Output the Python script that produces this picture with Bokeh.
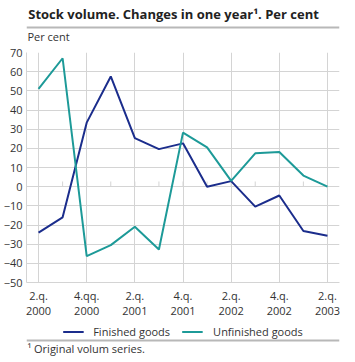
from bokeh.plotting import figure
from bokeh.models import Range1d, FixedTicker, Legend, LegendItem
from bokeh.layouts import column
from bokeh.embed import file_html
from bokeh.resources import INLINE
from bokeh.core.properties import value

# ---- data ----
quarters = ["2.q. 2000", "3.q. 2000", "4.q. 2000", "1.q. 2001", "2.q. 2001",
            "3.q. 2001", "4.q. 2001", "1.q. 2002", "2.q. 2002", "3.q. 2002",
            "4.q. 2002", "1.q. 2003", "2.q. 2003"]
finished = [-24, -16, 33.4, 57.5, 25.3, 19.6, 22.6, 0, 2.9, -10.4, -4.6, -23.1, -25.6]
unfinished = [51, 67, -36.2, -30.5, -20.9, -32.8, 28.2, 20.5, 3, 17.4, 18.1, 5.8, 0]
series_names = ["Finished goods", "Unfinished goods"]
tick_positions = [0, 2, 4, 6, 8, 10, 12]
tick_labels = ["2.q.\n2000", "4.qq.\n2000", "2.q.\n2001", "4.q.\n2001",
               "2.q.\n2002", "4.q.\n2002", "2.q.\n2003"]
y_ticks = [-50, -40, -30, -20, -10, 0, 10, 20, 30, 40, 50, 60, 70]
title_text = "Stock volume. Changes in one year\u00b9. Per cent"
unit_text = "Per cent"
footnote_text = "\u00b9 Original volum series."

quarter_index = list(range(len(quarters)))
NAN = float("nan")

FONT = "Open Sans"
BLUE = "#1b2d8c"
TEAL = "#1d9a98"
GRID = "#d4d4d4"
SEP = "#b8b8b8"
TEXT = "#333333"
W = 355

# ---- top strip: title, separator, unit ----
top = figure(width=W, height=45, x_range=Range1d(0, W), y_range=Range1d(45, 0),
             x_axis_type=None, y_axis_type=None, toolbar_location=None,
             output_backend="svg", min_border=0, outline_line_color=None, title=None)
top.grid.visible = False
top.text(x=[2], y=[13], text=[title_text], text_font=value(FONT), text_font_style="bold",
         text_font_size="13px", text_baseline="middle", text_color="#222222")
top.segment(x0=[0], y0=[27], x1=[W], y1=[27], line_color=SEP, line_width=2)
top.text(x=[1], y=[36], text=[unit_text], text_font=value(FONT),
         text_font_size="11px", text_baseline="middle", text_color=TEXT)

# ---- main chart ----
p = figure(width=W, height=275, x_range=Range1d(-0.5, len(quarters) - 0.5),
           y_range=Range1d(-50, 70), toolbar_location=None, output_backend="svg",
           title=None, min_border_left=24, min_border_right=16, min_border_top=7,
           min_border_bottom=34, outline_line_color=None)

p.segment(x0=quarter_index, y0=[0] * len(quarters), x1=quarter_index,
          y1=[2.7] * len(quarters), line_color=GRID, line_width=1)
p.line(quarter_index, finished, line_color=BLUE, line_width=2)
p.line(quarter_index, unfinished, line_color=TEAL, line_width=2)

p.xaxis.ticker = FixedTicker(ticks=tick_positions)
p.xaxis.major_label_overrides = dict(zip(tick_positions, tick_labels))
p.yaxis.ticker = FixedTicker(ticks=y_ticks)
for ax in p.axis:
    ax.axis_line_color = GRID
    ax.major_tick_line_color = None
    ax.minor_tick_line_color = None
    ax.major_tick_out = 0
    ax.major_tick_in = 0
    ax.major_label_text_font = FONT
    ax.major_label_text_font_size = "11px"
    ax.major_label_text_color = TEXT
    ax.major_label_standoff = 4
p.xaxis.major_label_text_line_height = 1.0
p.xaxis.major_label_standoff = 5
p.grid.grid_line_color = GRID
p.grid.grid_line_width = 1

# ---- bottom strip: legend, separator, footnote ----
bot = figure(width=W, height=42, x_range=Range1d(0, W), y_range=Range1d(42, 0),
             x_axis_type=None, y_axis_type=None, toolbar_location=None,
             output_backend="svg", min_border=0, outline_line_color=None, title=None)
bot.grid.visible = False
d1 = bot.line([NAN, NAN], [NAN, NAN], line_color=BLUE, line_width=2)
d2 = bot.line([NAN, NAN], [NAN, NAN], line_color=TEAL, line_width=2)
legend = Legend(items=[LegendItem(label=series_names[0], renderers=[d1]),
                       LegendItem(label=series_names[1], renderers=[d2])],
                orientation="horizontal", location="top_center", margin=4, padding=0,
                spacing=12, label_standoff=10, glyph_width=21, glyph_height=15,
                label_height=15, label_text_font=FONT, label_text_font_size="11px",
                label_text_color=TEXT, border_line_color=None, background_fill_alpha=0)
bot.add_layout(legend)
bot.segment(x0=[0], y0=[20], x1=[W], y1=[20], line_color=SEP, line_width=2)
bot.text(x=[1], y=[28], text=[footnote_text], text_font=value(FONT),
         text_font_size="11px", text_baseline="middle", text_color=TEXT)

layout = column(top, p, bot)
open("out.html", "w").write(file_html(layout, INLINE))
